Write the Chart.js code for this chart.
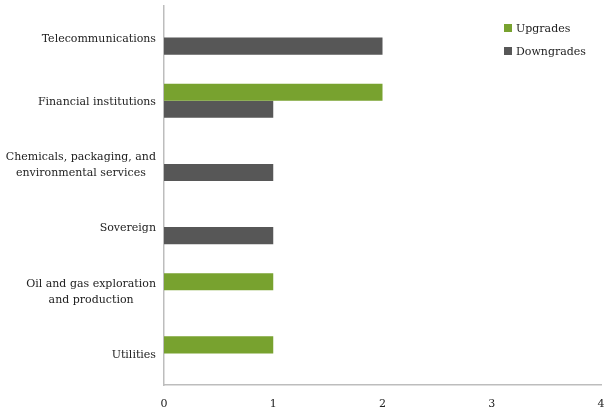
<!DOCTYPE html>
<html>
<head>
<meta charset="utf-8">
<script src="https://cdn.jsdelivr.net/npm/chart.js@4/dist/chart.umd.min.js"></script>
<style>
html,body{margin:0;padding:0;background:#fff;}
#c{display:block;}
</style>
</head>
<body>
<canvas id="c" width="610" height="414"></canvas>
<script>
const categories = [
  "Telecommunications",
  "Financial institutions",
  ["Chemicals, packaging, and", "environmental services"],
  "Sovereign",
  ["Oil and gas exploration", "and production"],
  "Utilities"
];
const upgrades = [0, 2, 0, 0, 1, 1];
const downgrades = [2, 1, 1, 1, 0, 0];
const xTicks = [0, 1, 2, 3, 4];

const FONT = "'DejaVu Serif', serif";
const GREEN = "#78a22f";
const GRAY = "#575757";
const TEXT = "#222";

const legendPlugin = {
  id: 'customLegend',
  afterDraw(chart) {
    const ctx = chart.ctx;
    ctx.save();
    ctx.font = "11px " + FONT;
    ctx.textBaseline = 'middle';
    ctx.textAlign = 'left';
    const ys = [28, 51];
    chart.data.datasets.forEach((ds, i) => {
      ctx.fillStyle = ds.backgroundColor;
      ctx.fillRect(504, ys[i] - 4, 8, 8);
      ctx.fillStyle = TEXT;
      ctx.fillText(ds.label, 516, ys[i] + 1);
    });
    ctx.restore();
  }
};

// category labels: block right-aligned to the axis, lines centred within the block
const yLabelPlugin = {
  id: 'yLabels',
  afterDraw(chart) {
    const ctx = chart.ctx;
    const scale = chart.scales.y;
    ctx.save();
    ctx.font = "11px " + FONT;
    ctx.fillStyle = TEXT;
    ctx.textBaseline = 'middle';
    ctx.textAlign = 'center';
    const right = scale.right - 8;
    const lh = 16;
    chart.data.labels.forEach((lab, i) => {
      const lines = Array.isArray(lab) ? lab : [lab];
      const w = Math.max(...lines.map(l => ctx.measureText(l).width));
      const cx = right - w / 2;
      const cy = scale.getPixelForTick(i) + 1.5;
      const y0 = cy - (lines.length - 1) * lh / 2;
      lines.forEach((l, k) => ctx.fillText(l, cx, y0 + k * lh));
    });
    ctx.restore();
  }
};

new Chart(document.getElementById('c'), {
  type: 'bar',
  data: {
    labels: categories,
    datasets: [
      { label: 'Upgrades', data: upgrades, backgroundColor: GREEN, categoryPercentage: 0.54, barPercentage: 1.0 },
      { label: 'Downgrades', data: downgrades, backgroundColor: GRAY, categoryPercentage: 0.54, barPercentage: 1.0 }
    ]
  },
  options: {
    indexAxis: 'y',
    responsive: false,
    animation: false,
    layout: { padding: { left: 0, right: 9, top: 6, bottom: 0 } },
    plugins: { legend: { display: false }, tooltip: { enabled: false } },
    scales: {
      x: {
        min: 0, max: 4,
        afterBuildTicks(scale) { scale.ticks = xTicks.map(v => ({ value: v })); },
        grid: { display: false, drawTicks: false },
        border: { display: true, color: '#bdbdbd', width: 1.5 },
        ticks: { color: TEXT, font: { family: FONT, size: 11 }, padding: 13 },
        afterFit(scale) { scale.height = 414 - 385; scale.paddingLeft = 0; scale.paddingRight = 0; }
      },
      y: {
        grid: { display: false, drawTicks: false },
        border: { display: true, color: '#bdbdbd', width: 1.5 },
        ticks: { display: false },
        afterFit(scale) { scale.width = 164; scale.paddingTop = 0; scale.paddingBottom = 0; }
      }
    }
  },
  plugins: [legendPlugin, yLabelPlugin]
});
</script>
</body>
</html>
